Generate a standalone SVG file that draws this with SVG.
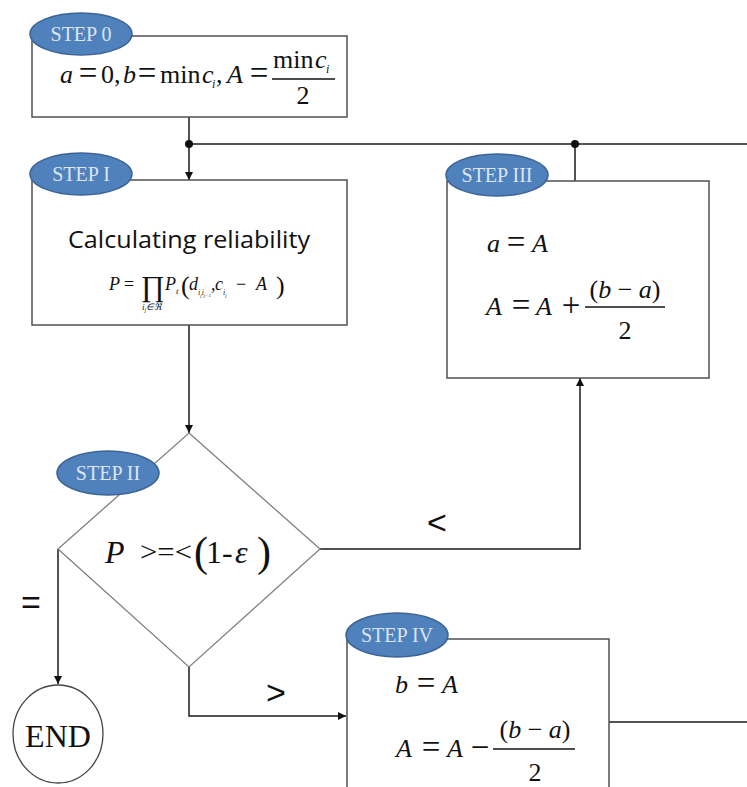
<svg xmlns="http://www.w3.org/2000/svg" width="747" height="787" viewBox="0 0 747 787">
<defs>
<style>
.box{fill:#fff;stroke:#505050;stroke-width:1.5}
.dia{fill:#fff;stroke:#808080;stroke-width:1.3}
.tag{fill:#4f81bd;stroke:#3c6494;stroke-width:1.5}
.tagt{font-family:"Liberation Serif",serif;font-size:20px;fill:#dce5f1;text-anchor:middle}
.ln{fill:none;stroke:#1a1a1a;stroke-width:1.5}
.m{font-family:"Liberation Serif",serif;font-size:26px;fill:#111}
.eq{font-family:"Liberation Serif",serif;font-size:33px;fill:#111;text-anchor:middle}
.i{font-style:italic}
.s{font-family:"Liberation Serif",serif;font-size:12px;font-style:italic;fill:#111}
.lab{font-family:"Liberation Sans",sans-serif;fill:#111}
</style>
<marker id="ar" viewBox="0 0 10 10" refX="10" refY="5" markerWidth="8" markerHeight="8" markerUnits="userSpaceOnUse" orient="auto">
<path d="M0,0 L10,5 L0,10 z" fill="#111"/>
</marker>
</defs>

<g id="connectors">
<path class="ln" d="M189,117 V180" marker-end="url(#ar)"/>
<path class="ln" d="M189,144 H747"/>
<path class="ln" d="M575,144 V181"/>
<circle cx="189" cy="144" r="4" fill="#111"/>
<circle cx="575" cy="144" r="4" fill="#111"/>
<path class="ln" d="M189,325 V433" marker-end="url(#ar)"/>
<path class="ln" d="M320,549 H580 V378" marker-end="url(#ar)"/>
<path class="ln" d="M58,549 V684" marker-end="url(#ar)"/>
<path class="ln" d="M189,667 V716 H346" marker-end="url(#ar)"/>
<path class="ln" d="M609,722 H747"/>
<text class="lab" x="437" y="534" font-size="34" text-anchor="middle">&lt;</text>
<text class="lab" x="276" y="704" font-size="34" text-anchor="middle">&gt;</text>
<text class="lab" x="31" y="614" font-size="34" text-anchor="middle">=</text>
</g>

<g id="step0">
<rect class="box" x="32" y="36" width="315" height="81"/>
<ellipse class="tag" cx="81" cy="34" rx="51" ry="21"/>
<text class="tagt" x="81" y="41">STEP 0</text>
<text class="m i" x="60" y="83">a</text>
<text class="eq" x="88" y="84">=</text>
<text class="m" x="101" y="83">0,</text>
<text class="m i" x="123" y="83">b</text>
<text class="eq" x="147" y="84">=</text>
<text class="m" x="160" y="83" font-size="24">min</text>
<text class="m i" x="202" y="83">c</text>
<text class="s" x="212" y="88">i</text>
<text class="m" x="216" y="83">,</text>
<text class="m i" x="227" y="83">A</text>
<text class="eq" x="259" y="84">=</text>
<text class="m" x="273" y="68" font-size="24">min</text>
<text class="m i" x="315" y="68">c</text>
<text class="s" x="326" y="73">i</text>
<line x1="272" y1="79" x2="335" y2="79" stroke="#111" stroke-width="1.3"/>
<text class="m" x="303" y="104" text-anchor="middle">2</text>
</g>

<g id="step1">
<rect class="box" x="32" y="180" width="315" height="145"/>
<ellipse class="tag" cx="81" cy="174" rx="51" ry="21"/>
<text class="tagt" x="81" y="181">STEP I</text>
<text x="189" y="248" font-family="'Open Sans',sans-serif" font-size="24" fill="#111" text-anchor="middle" textLength="242" lengthAdjust="spacingAndGlyphs">Calculating reliability</text>
<g font-family="'Liberation Serif',serif" fill="#111">
<text x="109" y="290" font-size="18" font-style="italic">P</text>
<text x="124" y="290" font-size="18">=</text>
<text x="141" y="296" font-size="29">∏</text>
<text x="142" y="310" font-size="9" font-style="italic">i<tspan font-size="6" dy="2">j</tspan><tspan dy="-2">∈ℜ</tspan></text>
<text x="165" y="290" font-size="18" font-style="italic">P</text>
<text x="176" y="294" font-size="9" font-style="italic">t</text>
<text x="181" y="294" font-size="26">(</text>
<text x="189" y="290" font-size="18" font-style="italic">d</text>
<text x="198" y="295" font-size="8" font-style="italic">i<tspan font-size="5" dy="1.5">j</tspan><tspan dy="-1.5">i</tspan><tspan font-size="5" dy="1.5">j+1</tspan></text>
<text x="211" y="290" font-size="18">,</text>
<text x="215" y="290" font-size="18" font-style="italic">c</text>
<text x="223" y="295" font-size="8" font-style="italic">i<tspan font-size="5" dy="1.5">j</tspan></text>
<text x="236" y="290" font-size="18">−</text>
<text x="256" y="290" font-size="18" font-style="italic">A</text>
<text x="276" y="294" font-size="26">)</text>
</g>
</g>

<g id="step2">
<polygon class="dia" points="189,433 320,549 189,667 58,549"/>
<ellipse class="tag" cx="108" cy="473" rx="51" ry="22"/>
<text class="tagt" x="108" y="480">STEP II</text>
<g font-family="'Liberation Serif',serif" fill="#111">
<text x="105" y="563" font-size="32" font-style="italic">P</text>
<text x="140" y="561" font-size="28" textLength="52" lengthAdjust="spacingAndGlyphs">&gt;=&lt;</text>
<text x="194" y="566" font-size="42">(</text>
<text x="206" y="563" font-size="32">1-</text>
<text x="235" y="563" font-size="32" font-style="italic">ε</text>
<text x="257" y="566" font-size="42">)</text>
</g>
</g>

<g id="step3">
<rect class="box" x="447" y="181" width="262" height="197"/>
<ellipse class="tag" cx="497" cy="175" rx="51" ry="21"/>
<text class="tagt" x="497" y="182">STEP III</text>
<text class="m i" x="487" y="252">a</text>
<text class="eq" x="516" y="253">=</text>
<text class="m i" x="532" y="252">A</text>
<text class="m i" x="486" y="315">A</text>
<text class="eq" x="521" y="316">=</text>
<text class="m i" x="536" y="315">A</text>
<text class="eq" x="571" y="316">+</text>
<text class="m" x="625" y="298" text-anchor="middle">(<tspan font-style="italic">b</tspan> − <tspan font-style="italic">a</tspan>)</text>
<line x1="585" y1="307" x2="665" y2="307" stroke="#111" stroke-width="1.3"/>
<text class="m" x="625" y="339" text-anchor="middle">2</text>
</g>

<g id="step4">
<path class="box" d="M347,787 V639 H609 V787"/>
<ellipse class="tag" cx="397" cy="635" rx="51" ry="22"/>
<text class="tagt" x="397" y="642">STEP IV</text>
<text class="m i" x="395" y="693">b</text>
<text class="eq" x="426" y="694">=</text>
<text class="m i" x="442" y="693">A</text>
<text class="m i" x="396" y="757">A</text>
<text class="eq" x="431" y="758">=</text>
<text class="m i" x="447" y="757">A</text>
<text class="eq" x="480" y="758">−</text>
<text class="m" x="535" y="738" text-anchor="middle">(<tspan font-style="italic">b</tspan> − <tspan font-style="italic">a</tspan>)</text>
<line x1="493" y1="749" x2="575" y2="749" stroke="#111" stroke-width="1.3"/>
<text class="m" x="535" y="781" text-anchor="middle">2</text>
</g>

<g id="end">
<ellipse cx="58" cy="734" rx="45" ry="49" fill="#fff" stroke="#444" stroke-width="1.3"/>
<text x="58" y="747" font-family="'Liberation Serif',serif" font-size="32" fill="#111" text-anchor="middle">END</text>
</g>
</svg>
